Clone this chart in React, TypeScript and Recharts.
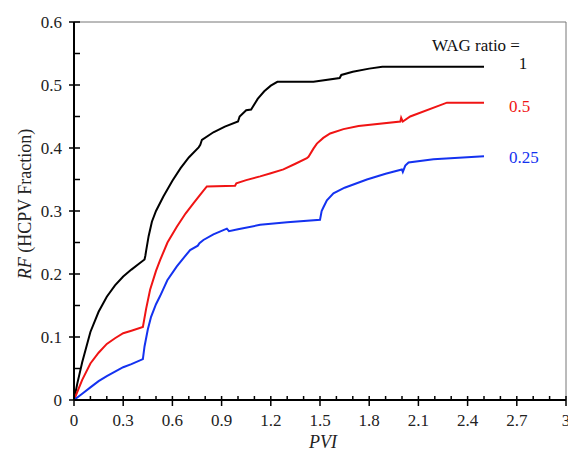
import React from 'react';
import {
  LineChart, Line, XAxis, YAxis, ReferenceLine, Customized,
} from 'recharts';

// PVI / RF, one pair of arrays per WAG ratio
const pviWag1 = [0, 0.02, 0.05, 0.1, 0.15, 0.2, 0.25, 0.3, 0.35, 0.4, 0.43, 0.435, 0.44, 0.455, 0.475, 0.5, 0.545, 0.6, 0.65, 0.7, 0.76, 0.77, 0.78, 0.85, 0.92, 1.0, 1.01, 1.05, 1.08, 1.12, 1.16, 1.2, 1.24, 1.46, 1.62, 1.63, 1.7, 1.8, 1.88, 2.5];
const rfWag1 = [0, 0.026, 0.06, 0.108, 0.14, 0.164, 0.182, 0.196, 0.207, 0.217, 0.223, 0.229, 0.237, 0.26, 0.283, 0.3, 0.323, 0.348, 0.368, 0.385, 0.401, 0.405, 0.413, 0.425, 0.434, 0.442, 0.45, 0.46, 0.461, 0.478, 0.49, 0.499, 0.505, 0.505, 0.511, 0.516, 0.521, 0.526, 0.529, 0.529];

const pviWag05 = [0, 0.05, 0.1, 0.15, 0.2, 0.25, 0.3, 0.35, 0.42, 0.44, 0.464, 0.5, 0.525, 0.57, 0.627, 0.68, 0.728, 0.77, 0.81, 0.982, 0.99, 1.05, 1.135, 1.2, 1.277, 1.35, 1.42, 1.43, 1.46, 1.481, 1.52, 1.562, 1.643, 1.735, 1.99, 1.995, 2.005, 2.05, 2.274, 2.5];
const rfWag05 = [0, 0.032, 0.058, 0.075, 0.089, 0.098, 0.106, 0.11, 0.116, 0.145, 0.175, 0.205, 0.222, 0.25, 0.275, 0.296, 0.312, 0.326, 0.339, 0.34, 0.344, 0.349, 0.355, 0.36, 0.366, 0.375, 0.384, 0.386, 0.399, 0.407, 0.416, 0.423, 0.43, 0.435, 0.442, 0.448, 0.442, 0.45, 0.472, 0.472];

const pviWag025 = [0, 0.05, 0.1, 0.15, 0.2, 0.25, 0.3, 0.35, 0.42, 0.43, 0.45, 0.47, 0.5, 0.525, 0.569, 0.627, 0.67, 0.708, 0.755, 0.765, 0.789, 0.85, 0.932, 0.945, 1.0, 1.135, 1.3, 1.5, 1.51, 1.521, 1.542, 1.582, 1.65, 1.786, 1.9, 1.999, 2.005, 2.02, 2.04, 2.192, 2.5];
const rfWag025 = [0, 0.01, 0.02, 0.03, 0.038, 0.045, 0.052, 0.057, 0.065, 0.085, 0.112, 0.132, 0.152, 0.165, 0.19, 0.212, 0.226, 0.238, 0.245, 0.249, 0.254, 0.263, 0.272, 0.268, 0.271, 0.278, 0.282, 0.286, 0.3, 0.306, 0.317, 0.328, 0.337, 0.35, 0.359, 0.366, 0.362, 0.372, 0.377, 0.382, 0.387];

const xTicks = [0, 0.1, 0.2, 0.3, 0.4, 0.5, 0.6, 0.7, 0.8, 0.9, 1.0, 1.1, 1.2, 1.3, 1.4, 1.5, 1.6, 1.7, 1.8, 1.9, 2.0, 2.1, 2.2, 2.3, 2.4, 2.5, 2.6, 2.7, 2.8, 2.9, 3.0];
const yTicks = [0, 0.05, 0.1, 0.15, 0.2, 0.25, 0.3, 0.35, 0.4, 0.45, 0.5, 0.55, 0.6];

const toPoints = (xs: number[], ys: number[]) => xs.map((pvi, i) => ({ pvi, rf: ys[i] }));

const serif = { fontFamily: '"Liberation Serif", "DejaVu Serif", serif' };
const RED = '#f01414';
const BLUE = '#1432f0';

// plot box in chart pixels
const LEFT = 74;
const BOTTOM = 400;

const XTick = (props: any) => {
  const { x, payload } = props;
  const v = payload.value;
  const major = Math.round(v * 10) % 3 === 0;
  return (
    <g>
      <line x1={x} x2={x} y1={BOTTOM - 4} y2={major ? BOTTOM + 6 : BOTTOM + 1} stroke="#000" strokeWidth={1.5} />
      {major && (
        <text x={x} y={BOTTOM + 26} textAnchor="middle" style={serif} fontSize={17} fill="#222">
          {Number(v.toFixed(1)).toString()}
        </text>
      )}
    </g>
  );
};

const YTick = (props: any) => {
  const { y, payload } = props;
  const v = payload.value;
  const major = Math.round(v * 100) % 10 === 0;
  return (
    <g>
      <line x1={major ? LEFT - 5 : LEFT - 1} x2={LEFT + 6} y1={y} y2={y} stroke="#000" strokeWidth={1.5} />
      {major && (
        <text x={LEFT - 12} y={y + 6} textAnchor="end" style={serif} fontSize={17} fill="#222">
          {Number(v.toFixed(1)).toString()}
        </text>
      )}
    </g>
  );
};

const Annotations = () => (
  <g style={serif} fontSize={17}>
    <text x={25} y={204} transform="rotate(-90, 25, 204)" dy="0.35em" textAnchor="middle" fill="#222" fontSize={18} style={serif}>
      <tspan fontStyle="italic">RF</tspan> (HCPV Fraction)
    </text>
    <text x={323} y={448} textAnchor="middle" fontStyle="italic" fill="#222" fontSize={18} style={serif}>PVI</text>
    <text x={432} y={51} fill="#111" style={serif}>WAG ratio =</text>
    <text x={523} y={69} textAnchor="middle" fill="#111" style={serif}>1</text>
    <text x={509} y={112} fill={RED} style={serif}>0.5</text>
    <text x={509} y={163} fill={BLUE} style={serif}>0.25</text>
  </g>
);

export default function App() {
  return (
    <div style={{ position: 'absolute', left: 0, top: 0, background: '#fff' }}>
      <LineChart width={568} height={452} margin={{ top: 22, right: 2, bottom: 2, left: 14 }}>
        <XAxis
          dataKey="pvi"
          type="number"
          domain={[0, 3]}
          ticks={xTicks}
          interval={0}
          height={50}
          axisLine={{ stroke: '#000', strokeWidth: 2 }}
          tickLine={false}
          tick={<XTick />}
          allowDuplicatedCategory={false}
        />
        <YAxis
          dataKey="rf"
          type="number"
          domain={[0, 0.6]}
          ticks={yTicks}
          interval={0}
          width={60}
          axisLine={{ stroke: '#000', strokeWidth: 2 }}
          tickLine={false}
          tick={<YTick />}
        />
        <ReferenceLine y={0.6} stroke="#777" strokeWidth={1} />
        <ReferenceLine x={3} stroke="#777" strokeWidth={1} />
        <Line data={toPoints(pviWag1, rfWag1)} dataKey="rf" type="linear" stroke="#000" strokeWidth={2} dot={false} isAnimationActive={false} />
        <Line data={toPoints(pviWag05, rfWag05)} dataKey="rf" type="linear" stroke={RED} strokeWidth={2} dot={false} isAnimationActive={false} />
        <Line data={toPoints(pviWag025, rfWag025)} dataKey="rf" type="linear" stroke={BLUE} strokeWidth={2} dot={false} isAnimationActive={false} />
        <Customized component={Annotations} />
      </LineChart>
    </div>
  );
}
